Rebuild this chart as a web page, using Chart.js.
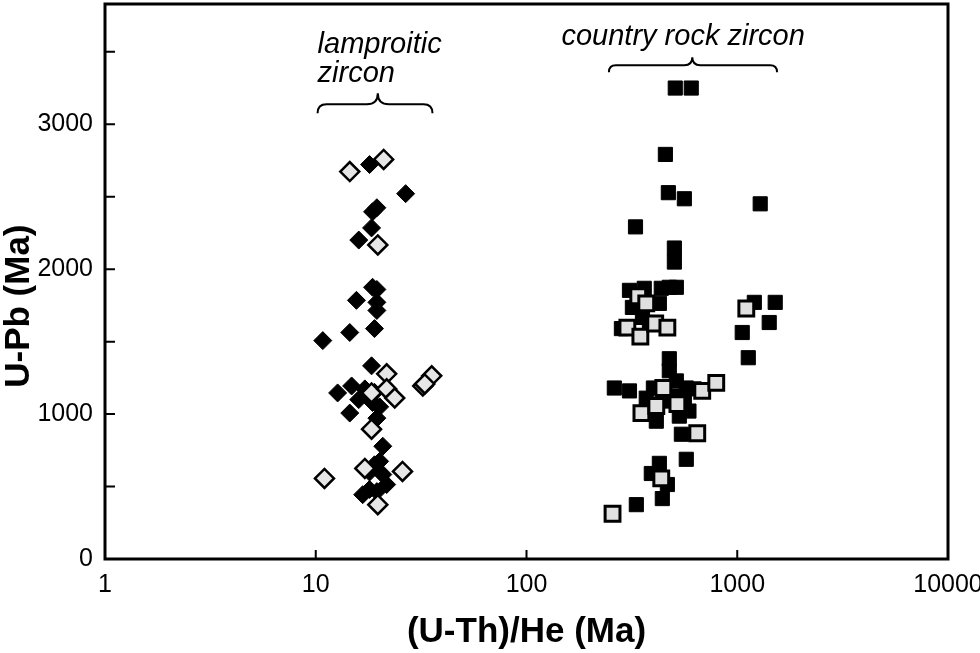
<!DOCTYPE html>
<html>
<head>
<meta charset="utf-8">
<script src="https://cdn.jsdelivr.net/npm/chart.js@4.4.1/dist/chart.umd.min.js"></script>
<style>
  html, body { margin: 0; padding: 0; background: #fff; }
  canvas { display: block; }
</style>
</head>
<body>
<canvas id="myChart" width="980" height="653"></canvas>
<script>
// lamproitic zircon, (U-Th)/He age vs U-Pb age
const lampFilledX = [18.0, 26.7, 19.5, 18.6, 18.4, 16.0, 18.6, 19.5, 15.6, 19.5, 19.5, 14.5, 19.0, 10.8, 18.4, 12.7, 14.8, 17.1, 19.0, 14.5, 19.5, 20.8, 20.1, 19.0, 20.8, 21.7, 16.7, 19.5, 18.0, 18.6, 20.1, 16.0, 18.0];
const lampFilledY = [2722, 2521, 2424, 2396, 2285, 2201, 1875, 1860, 1785, 1771, 1715, 1563, 1590, 1507, 1333, 1146, 1194, 1174, 1150, 1007, 972, 778, 674, 650, 583, 514, 444, 465, 600, 1080, 1050, 1100, 480];
const lampOpenX = [14.5, 21.0, 19.7, 21.7, 35.5, 32.2, 32.9, 18.4, 21.7, 23.7, 18.4, 17.1, 25.8, 11.0, 19.7];
const lampOpenY = [2674, 2757, 2167, 1278, 1264, 1194, 1208, 1146, 1174, 1111, 896, 625, 604, 556, 375];

// country rock zircon
const rockFilledX = [508, 605, 456, 471, 561, 1285, 329, 503, 503, 476, 514, 436, 308, 362, 427, 318, 355, 282, 383, 1205, 1514, 1418, 1056, 1128, 476, 261, 308, 514, 573, 625, 476, 503, 561, 451, 590, 531, 413, 370, 400, 543, 573, 427, 391, 466, 441, 332];
const rockFilledY = [3250, 3250, 2792, 2528, 2486, 2451, 2292, 2146, 2049, 1875, 1875, 1868, 1854, 1868, 1764, 1736, 1667, 1590, 1632, 1771, 1771, 1632, 1563, 1389, 1382, 1180, 1160, 1229, 1180, 1174, 1299, 1125, 1090, 1090, 1021, 986, 951, 1110, 1180, 861, 688, 660, 590, 514, 417, 375];
const rockOpenX = [339, 370, 301, 347, 408, 466, 1104, 446, 682, 795, 351, 413, 520, 646, 436, 256];
const rockOpenY = [1813, 1764, 1597, 1535, 1625, 1597, 1729, 1180, 1160, 1215, 1007, 1056, 1069, 868, 556, 312];

// axes
const xMin = 1, xMax = 10000;
const xTicks = [1, 10, 100, 1000, 10000];
const yMin = 0, yMax = 3830;
const yTicks = [0, 500, 1000, 1500, 2000, 2500, 3000, 3500];
const yTickLabels = [0, 1000, 2000, 3000];

// group labels (data coordinates)
const lampLabel = { lines: ['lamproitic', 'zircon'], x: 10.2, y: [3490, 3290] };
const lampBrace = { x1: 10.2, x2: 35.8, xm: 19.7, yLine: 3138, yEnd: 3076, yTip: 3214 };
const rockLabel = { lines: ['country rock zircon'], x: 146.5, y: [3545] };
const rockBrace = { x1: 246, x2: 1545, xm: 612, yLine: 3407, yEnd: 3359, yTip: 3462 };

function toPoints(xs, ys) {
  return xs.map(function(x, i) { return { x: x, y: ys[i] }; });
}

function drawBrace(ctx, xs, ys, b) {
  const x1 = xs.getPixelForValue(b.x1);
  const x2 = xs.getPixelForValue(b.x2);
  const xm = xs.getPixelForValue(b.xm);
  const yl = ys.getPixelForValue(b.yLine);
  const ye = ys.getPixelForValue(b.yEnd);
  const yt = ys.getPixelForValue(b.yTip);
  const re = ye - yl;
  const rt = yl - yt;
  ctx.beginPath();
  ctx.moveTo(x1, ye);
  ctx.quadraticCurveTo(x1, yl, x1 + re, yl);
  ctx.lineTo(xm - rt, yl);
  ctx.quadraticCurveTo(xm, yl, xm, yt);
  ctx.quadraticCurveTo(xm, yl, xm + rt, yl);
  ctx.lineTo(x2 - re, yl);
  ctx.quadraticCurveTo(x2, yl, x2, ye);
  ctx.stroke();
}

// frame, inward ticks, y title and group labels
const decorPlugin = {
  id: 'decor',
  afterDraw: function(chart) {
    const ctx = chart.ctx;
    const area = chart.chartArea;
    const xs = chart.scales.x;
    const ys = chart.scales.y;
    ctx.save();
    ctx.strokeStyle = '#000';
    ctx.lineWidth = 2;
    ctx.beginPath();
    ys.ticks.forEach(function(t) {
      const py = ys.getPixelForValue(t.value);
      ctx.moveTo(area.left, py);
      ctx.lineTo(area.left + 10, py);
    });
    xs.ticks.forEach(function(t) {
      const px = xs.getPixelForValue(t.value);
      ctx.moveTo(px, area.bottom);
      ctx.lineTo(px, area.bottom - 9);
    });
    ctx.stroke();

    ctx.lineWidth = 3;
    ctx.strokeRect(area.left, area.top, area.right - area.left, area.bottom - area.top);

    // y axis title
    ctx.fillStyle = '#000';
    ctx.font = 'bold 35px "Liberation Sans", Arial, sans-serif';
    ctx.textAlign = 'center';
    ctx.textBaseline = 'middle';
    ctx.translate(19, ys.getPixelForValue(1745));
    ctx.rotate(-Math.PI / 2);
    ctx.fillText('U-Pb (Ma)', 0, 0);
    ctx.setTransform(1, 0, 0, 1, 0, 0);

    ctx.font = 'italic 29px "Liberation Sans", Arial, sans-serif';
    ctx.textAlign = 'left';
    ctx.textBaseline = 'alphabetic';
    [lampLabel, rockLabel].forEach(function(lab) {
      lab.lines.forEach(function(t, i) {
        ctx.fillText(t, xs.getPixelForValue(lab.x), ys.getPixelForValue(lab.y[i]));
      });
    });
    ctx.lineWidth = 2;
    drawBrace(ctx, xs, ys, lampBrace);
    drawBrace(ctx, xs, ys, rockBrace);
    ctx.restore();
  }
};

const tickFont = { family: '"Liberation Sans", Arial, sans-serif', size: 25 };

const ctx = document.getElementById('myChart');
const chart = new Chart(ctx, {
  type: 'scatter',
  data: {
    datasets: [
      {
        label: 'lamproitic zircon (open)',
        data: toPoints(lampOpenX, lampOpenY),
        pointStyle: 'rectRot',
        pointRadius: 9.5,
        backgroundColor: '#e6e6e6',
        borderColor: '#000',
        borderWidth: 2.5
      },
      {
        label: 'country rock zircon (open)',
        data: toPoints(rockOpenX, rockOpenY),
        pointStyle: 'rect',
        pointRadius: 10.5,
        backgroundColor: '#e0e0e0',
        borderColor: '#000',
        borderWidth: 3
      },
      {
        label: 'lamproitic zircon',
        data: toPoints(lampFilledX, lampFilledY),
        pointStyle: 'rectRot',
        pointRadius: 9,
        backgroundColor: '#000',
        borderColor: '#000',
        borderWidth: 1
      },
      {
        label: 'country rock zircon',
        data: toPoints(rockFilledX, rockFilledY),
        pointStyle: 'rect',
        pointRadius: 10,
        backgroundColor: '#000',
        borderColor: '#000',
        borderWidth: 1
      }
    ]
  },
  options: {
    responsive: false,
    devicePixelRatio: 1,
    animation: false,
    layout: { autoPadding: false, padding: { top: 4, right: 32, left: 0, bottom: 0 } },
    plugins: {
      legend: { display: false },
      tooltip: { enabled: false }
    },
    scales: {
      x: {
        type: 'logarithmic',
        min: xMin,
        max: xMax,
        grid: { display: false },
        border: { display: false },
        afterBuildTicks: function(s) {
          s.ticks = xTicks.map(function(v) { return { value: v }; });
        },
        ticks: {
          autoSkip: false,
          maxRotation: 0,
          padding: 3,
          color: '#000',
          font: tickFont,
          callback: function(v) { return String(v); }
        },
        title: {
          display: true,
          text: '(U-Th)/He (Ma)',
          color: '#000',
          font: { family: '"Liberation Sans", Arial, sans-serif', weight: 'bold', size: 35 },
          padding: { top: 0, bottom: 0 }
        },
        afterFit: function(s) {
          s.height = 94;
          s.paddingLeft = 0;
          s.paddingRight = 0;
        }
      },
      y: {
        min: yMin,
        max: yMax,
        grid: { display: false },
        border: { display: false },
        afterBuildTicks: function(s) {
          s.ticks = yTicks.map(function(v) { return { value: v }; });
        },
        ticks: {
          autoSkip: false,
          padding: 4,
          color: '#000',
          font: tickFont,
          callback: function(v) { return yTickLabels.indexOf(v) >= 0 ? String(v) : ''; }
        },
        afterFit: function(s) {
          s.width = 105;
          s.paddingTop = 0;
          s.paddingBottom = 0;
        }
      }
    }
  },
  plugins: [decorPlugin]
});
</script>
</body>
</html>
